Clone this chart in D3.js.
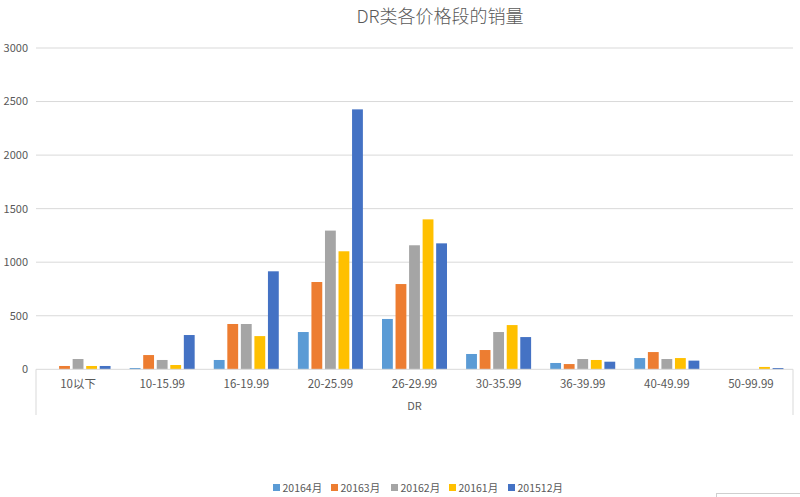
<!DOCTYPE html>
<html><head><meta charset="utf-8">
<script src="https://cdn.jsdelivr.net/npm/d3@7"></script>
<style>
body{margin:0;background:#fff;}
text{font-family:"Noto Sans CJK SC","Noto Sans",sans-serif;fill:#595959;}
</style></head>
<body><svg id="c" width="800" height="497"></svg>
<script>
const categories = ["10以下","10-15.99","16-19.99","20-25.99","26-29.99","30-35.99","36-39.99","40-49.99","50-99.99"];
const seriesNames = ["20164月","20163月","20162月","20161月","201512月"];
const s20164 = [0, 12, 87, 348, 470, 143, 59, 105, 0];
const s20163 = [31, 133, 423, 815, 796, 180, 49, 161, 0];
const s20162 = [96, 87, 423, 1295, 1158, 348, 96, 96, 0];
const s20161 = [31, 40, 310, 1102, 1400, 413, 87, 105, 22];
const s201512 = [31, 320, 915, 2427, 1176, 301, 71, 81, 12];
const yTicks = [0,500,1000,1500,2000,2500,3000];
const colors = ["#5B9BD5","#ED7D31","#A5A5A5","#FFC000","#4472C4"];
const seriesValues = [s20164, s20163, s20162, s20161, s201512];

const svg = d3.select("#c");
const mLeft = 36, mRight = 793, mTop = 48, mBottom = 369.3;

const x0 = d3.scaleBand().domain(categories).range([mLeft, mRight]).padding(0);
const groupW = 65;
const x1 = d3.scaleBand().domain(seriesNames).range([-groupW/2, groupW/2]).paddingInner(0.2);
const y = d3.scaleLinear().domain([0,3000]).range([mBottom, mTop]);

// gridlines
svg.append("g").selectAll("line").data(yTicks.filter(d=>d>0)).join("line")
  .attr("x1", mLeft).attr("x2", mRight)
  .attr("y1", d=>y(d)).attr("y2", d=>y(d))
  .attr("stroke","#d9d9d9").attr("stroke-width",1);

// y labels
svg.append("g").selectAll("text").data(yTicks).join("text")
  .attr("x", 28).attr("y", d=>y(d)).attr("dy","0.35em")
  .attr("text-anchor","end").attr("font-size",11).text(d=>d);

// bars
const groups = svg.append("g").selectAll("g").data(categories).join("g")
  .attr("transform", d=>`translate(${x0(d)+x0.bandwidth()/2},0)`);
groups.selectAll("rect").data((c,i)=>seriesNames.map((s,j)=>({s, j, v: seriesValues[j][i]})))
  .join("rect")
  .attr("x", d=>x1(d.s)).attr("width", x1.bandwidth())
  .attr("y", d=>y(d.v)).attr("height", d=>y(0)-y(d.v))
  .attr("fill", d=>colors[d.j]);

// axis line and boundary lines
svg.append("line").attr("x1",mLeft).attr("x2",mRight).attr("y1",mBottom).attr("y2",mBottom)
  .attr("stroke","#d9d9d9");
[mLeft, mRight].forEach(xx=>{
  svg.append("line").attr("x1",xx).attr("x2",xx).attr("y1",mBottom).attr("y2",415)
    .attr("stroke","#d9d9d9");
});

// category labels
svg.append("g").selectAll("text").data(categories).join("text")
  .attr("x", d=>x0(d)+x0.bandwidth()/2).attr("y", 384).attr("dy","0.35em")
  .attr("text-anchor","middle").attr("font-size",11.5).text(d=>d);

// axis title
svg.append("text").attr("x", (mLeft+mRight)/2).attr("y", 406).attr("dy","0.35em")
  .attr("text-anchor","middle").attr("font-size",11).text("DR");

// title
svg.append("text").attr("x", 440).attr("y", 17).attr("dy","0.35em")
  .attr("text-anchor","middle").attr("font-size",18).attr("font-weight",300).text("DR类各价格段的销量");

// legend
const legendX = [273, 331, 391, 449, 508];
const lg = svg.append("g").selectAll("g").data(seriesNames).join("g")
  .attr("transform",(d,i)=>`translate(${legendX[i]},488)`);
lg.append("rect").attr("x",0).attr("y",-4).attr("width",7).attr("height",7)
  .attr("fill",(d,i)=>colors[i]);
lg.append("text").attr("x",9.5).attr("y",0).attr("dy","0.35em").attr("font-size",10.5).text(d=>d);

// faint box bottom-right
svg.append("rect").attr("x",716.5).attr("y",493.5).attr("width",90).attr("height",10)
  .attr("fill","none").attr("stroke","#cfcfcf");
</script></body></html>
